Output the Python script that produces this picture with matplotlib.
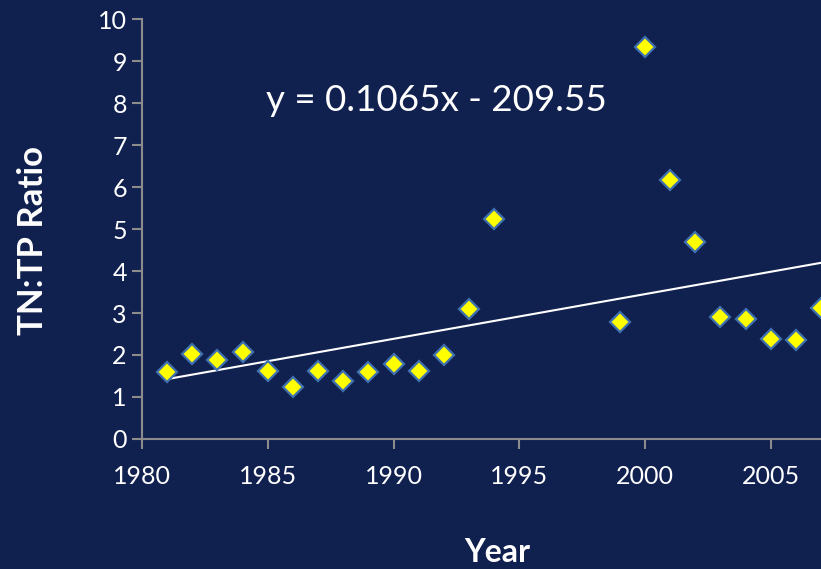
import matplotlib
matplotlib.use("Agg")
import matplotlib.pyplot as plt
import numpy as np

years = [1981, 1982, 1983, 1984, 1985, 1986, 1987, 1988, 1989, 1990, 1991,
         1992, 1993, 1994, 1999, 2000, 2001, 2002, 2003, 2004, 2005, 2006, 2007]
ratio = [1.60, 2.02, 1.88, 2.07, 1.62, 1.24, 1.62, 1.38, 1.60, 1.79, 1.62,
         2.00, 3.10, 5.24, 2.79, 9.33, 6.17, 4.69, 2.90, 2.86, 2.38, 2.36, 3.12]
slope = 0.1065
intercept = -209.55
trend_years = [1981, 2010]

BG = "#11214f"
plt.rcParams["font.family"] = ["Lato", "DejaVu Sans"]

fig = plt.figure(figsize=(8.21, 5.69), dpi=100, facecolor=BG)
ax = fig.add_axes([0.173, 0.2285, 0.919, 0.738])
ax.set_facecolor(BG)

tx = np.array(trend_years)
ax.plot(tx, slope * tx + intercept, color="white", lw=1.5, zorder=2)
ax.plot(years, ratio, linestyle="none", marker="D", markersize=10,
        markerfacecolor="#ffff00", markeredgecolor="#3f70b0",
        markeredgewidth=1.6, zorder=3, clip_on=False)

ax.set_xlim(1980, 2010)
ax.set_ylim(0, 10)
ax.set_xticks(range(1980, 2010, 5))
ax.set_yticks(range(0, 11))

for side in ["top", "right"]:
    ax.spines[side].set_visible(False)
for side in ["left", "bottom"]:
    ax.spines[side].set_color("#8c8c8c")
    ax.spines[side].set_linewidth(1.5)

ax.tick_params(axis="both", colors="#8c8c8c", labelcolor="white",
               direction="out", length=7, width=1.5, labelsize=18)
ax.tick_params(axis="x", pad=12)
ax.tick_params(axis="y", pad=4)

ax.text(1991.7, 8.05, "y = 0.1065x - 209.55", color="white", fontsize=26.5,
        ha="center", va="center")

fig.text(497 / 821, 1 - 553 / 569, "Year", color="white", fontsize=23,
         fontweight="bold", ha="center", va="center")
fig.text(33 / 821, 1 - 240 / 569, "TN:TP Ratio", color="white", fontsize=25,
         fontweight="bold", rotation=90, ha="center", va="center")

fig.savefig("out.png", dpi=100, facecolor=BG)
